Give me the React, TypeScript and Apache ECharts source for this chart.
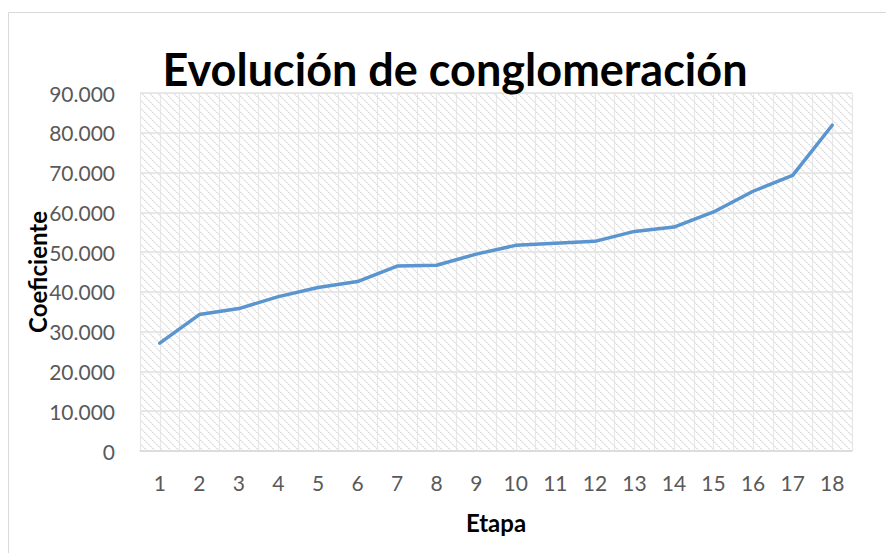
import React, { useEffect, useRef } from "react";
import * as echarts from "echarts";

const etapas = ["1","2","3","4","5","6","7","8","9","10","11","12","13","14","15","16","17","18"];
const coeficientes = [27100, 34300, 35800, 38800, 41100, 42600, 46500, 46700, 49500, 51700, 52200, 52700, 55200, 56300, 60100, 65300, 69300, 81900];
const titleText = "Evolución de conglomeración";
const yAxisTitle = "Coeficiente";
const xAxisTitle = "Etapa";

function fmt(v: number): string {
  if (v === 0) return "0";
  return String(Math.round(v)).replace(/\B(?=(\d{3})+(?!\d))/g, ".");
}

function makePattern(): HTMLCanvasElement {
  const c = document.createElement("canvas");
  c.width = 8;
  c.height = 8;
  const ctx = c.getContext("2d")!;
  ctx.fillStyle = "#ffffff";
  ctx.fillRect(0, 0, 8, 8);
  for (let y = 0; y < 8; y++) {
    for (let x = 0; x < 8; x++) {
      const d = (((x - y) % 8) + 8) % 8;
      if (d === 0) {
        ctx.fillStyle = (x % 2 === 0) ? "#dedede" : "#ececec";
        ctx.fillRect(x, y, 1, 1);
      } else if (d === 1) {
        ctx.fillStyle = (x % 2 === 1) ? "#e8e8e8" : "#f6f6f6";
        ctx.fillRect(x, y, 1, 1);
      }
    }
  }
  return c;
}

export default function App() {
  const ref = useRef<HTMLDivElement>(null);
  useEffect(() => {
    if (!ref.current) return;
    const chart = echarts.init(ref.current, undefined, { renderer: "svg" });
    const pat = makePattern();
    const gridLeft = 140, gridTop = 93, gridW = 712, gridH = 358;
    chart.setOption({
      animation: false,
      backgroundColor: "#ffffff",
      title: {
        text: titleText,
        left: 450,
        textAlign: "center",
        top: 41,
        textStyle: { fontFamily: "Lato", fontWeight: "bold", fontSize: 45, color: "#000000" },
      },
      graphic: [
        { type: "line", shape: { x1: 8.5, y1: 12.5, x2: 886, y2: 12.5 }, style: { stroke: "#d9d9d9", lineWidth: 1 } },
        { type: "line", shape: { x1: 8.5, y1: 12.5, x2: 8.5, y2: 553 }, style: { stroke: "#d9d9d9", lineWidth: 1 } },
      ],
      grid: {
        left: gridLeft, top: gridTop, width: gridW, height: gridH,
        show: true,
        borderWidth: 0,
        backgroundColor: { image: pat, repeat: "repeat", imageWidth: 8, imageHeight: 8 } as any,
      },
      xAxis: [
        {
          type: "category",
          data: etapas,
          boundaryGap: true,
          name: xAxisTitle,
          nameLocation: "middle",
          nameGap: 59,
          nameMoveOverlap: false,
          nameTextStyle: { fontFamily: "Lato", fontWeight: "bold", fontSize: 24, color: "#000000" },
          axisLine: { show: true, lineStyle: { color: "#d9d9d9", width: 1.5 } },
          axisTick: { show: false },
          axisLabel: { margin: 21, fontFamily: "Lato", fontSize: 21, color: "#595959" },
          splitLine: { show: false },
        },
        {
          type: "value",
          min: 0,
          max: 36,
          interval: 1,
          show: true,
          position: "bottom",
          axisLine: { show: false },
          axisTick: { show: false },
          axisLabel: { show: false },
          splitLine: { show: true, lineStyle: { color: "#e6e6e6", width: 1.2 } },
        },
      ],
      yAxis: {
        type: "value",
        min: 0,
        max: 90000,
        interval: 10000,
        name: yAxisTitle,
        nameLocation: "middle",
        nameGap: 91,
        nameMoveOverlap: false,
        nameTextStyle: { fontFamily: "Lato", fontWeight: "bold", fontSize: 24, color: "#000000" },
        axisLine: { show: false },
        axisTick: { show: false },
        axisLabel: { margin: 25, fontFamily: "Lato", fontSize: 21, color: "#595959", formatter: (v: number) => fmt(v) },
        splitLine: { show: true, lineStyle: { color: "#e0e0e0", width: 1.5 } },
      },
      series: [
        {
          type: "line",
          xAxisIndex: 0,
          data: coeficientes,
          symbol: "none",
          lineStyle: { color: "#5B95D0", width: 3.5, cap: "round", join: "round" },
          itemStyle: { color: "#5B95D0" },
        },
      ],
    });
    return () => chart.dispose();
  }, []);
  return <div ref={ref} style={{ position: "fixed", left: 0, top: 0, width: 886, height: 553 }} />;
}
